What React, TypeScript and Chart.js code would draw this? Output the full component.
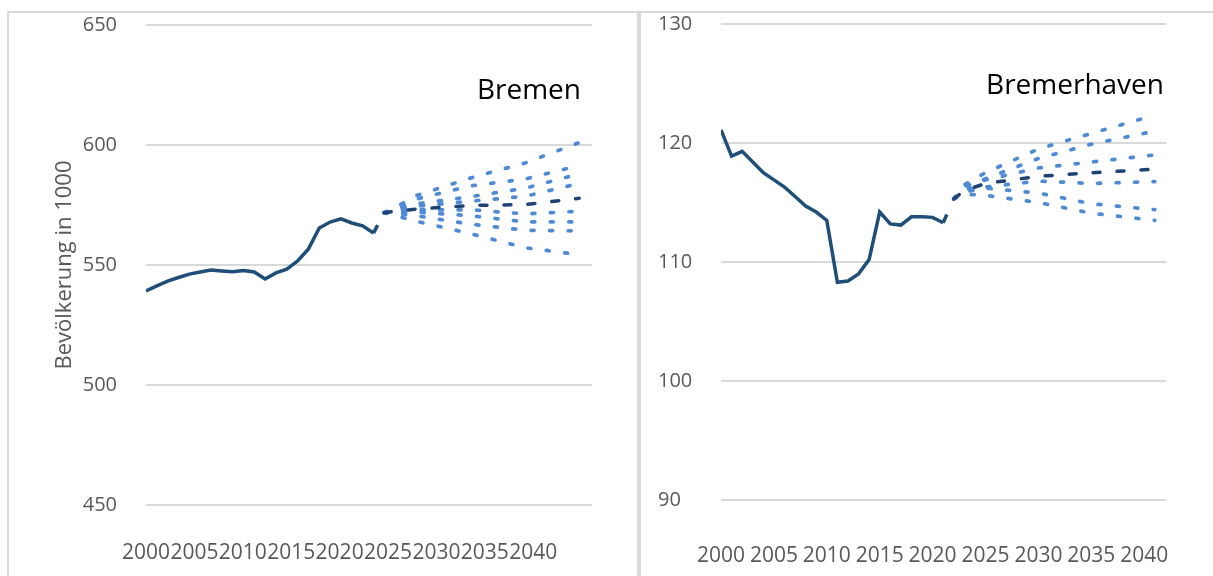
import React, { useEffect, useRef } from "react";
import { Chart, registerables } from "chart.js";

Chart.register(...registerables);

// ---------- data ----------
const histYears = [2000, 2001, 2002, 2003, 2004, 2005, 2006, 2007, 2008, 2009, 2010, 2011, 2012, 2013, 2014, 2015, 2016, 2017, 2018, 2019, 2020, 2021, 2022];

const bremenHist = [539.2, 541.3, 543.3, 544.8, 546.2, 547.1, 547.9, 547.5, 547.2, 547.7, 547.1, 544.2, 546.7, 548.3, 551.7, 556.7, 565.4, 567.9, 569.2, 567.5, 566.3, 563.3, 571.8];
const bremerhavenHist = [121.1, 118.9, 119.3, 118.4, 117.5, 116.9, 116.3, 115.5, 114.7, 114.2, 113.5, 108.3, 108.4, 109.0, 110.2, 114.2, 113.2, 113.1, 113.8, 113.8, 113.75, 113.3, 115.3];

const bremenProjYears = [2022, 2023, 2025, 2030, 2035, 2040];
const bremenMain = [571.8, 572.4, 573.3, 574.8, 575.2, 577.8];
const bremenVariants = [
  [571.8, 574.0, 579.0, 586.3, 592.5, 601.0],
  [571.8, 573.6, 577.5, 583.0, 585.8, 591.5],
  [571.8, 573.2, 575.5, 578.5, 582.0, 588.0],
  [571.8, 572.9, 574.5, 576.6, 578.6, 584.0],
  [571.8, 572.5, 573.0, 573.0, 571.3, 572.4],
  [571.8, 572.2, 572.0, 570.5, 568.0, 568.0],
  [571.8, 571.6, 570.5, 567.0, 564.5, 564.2],
  [571.8, 570.6, 568.2, 563.0, 557.2, 554.3],
];

const bremerhavenProjYears = [2022, 2023, 2025, 2030, 2035, 2041];
const bremerhavenMain = [115.3, 116.0, 116.6, 117.2, 117.5, 117.8];
const bremerhavenVariants = [
  [115.3, 116.5, 117.5, 119.5, 120.8, 122.35],
  [115.3, 116.4, 117.0, 118.7, 119.9, 121.0],
  [115.3, 116.3, 116.9, 117.9, 118.4, 119.0],
  [115.3, 116.1, 116.3, 116.8, 116.6, 116.75],
  [115.3, 115.9, 116.2, 115.8, 114.9, 114.4],
  [115.3, 115.7, 115.6, 115.0, 114.1, 113.5],
];

const xTickYears = [2000, 2005, 2010, 2015, 2020, 2025, 2030, 2035, 2040];

// ---------- styles ----------
const NAVY = "#1F4E79";
const DARK = "#1E4273";
const LIGHT = "#4E8AD6";
const GRID = "#D9D9D9";
const TEXT = "#595959";
const FONT = "'Open Sans', 'Noto Sans', sans-serif";

const toXY = (xs: number[], ys: number[]) => xs.map((x, i) => ({ x, y: ys[i] }));

function buildDatasets(hist: number[], projYears: number[], main: number[], variants: number[][]) {
  const last = histYears.length - 1;
  const ds: any[] = [
    {
      data: toXY(histYears, hist),
      borderColor: NAVY,
      borderWidth: 3.5,
      pointRadius: 0,
      tension: 0,
      xAxisID: "x",
      yAxisID: "y",
      segment: {
        borderDash: (ctx: any) => (ctx.p1DataIndex === last ? [9, 60] : undefined),
      },
    },
    {
      data: toXY(projYears, main),
      borderColor: DARK,
      borderWidth: 3.5,
      borderDash: [7, 17],
      borderCapStyle: "round",
      pointRadius: 0,
      tension: 0,
      xAxisID: "x",
      yAxisID: "y",
    },
  ];
  variants.forEach((v) => {
    ds.push({
      data: toXY(projYears, v),
      borderColor: LIGHT,
      borderWidth: 3.7,
      borderDash: [3, 15.5],
      borderCapStyle: "round",
      pointRadius: 0,
      tension: 0,
      xAxisID: "x",
      yAxisID: "y",
    });
  });
  return ds;
}

const setXTicks = (s: any) => {
  s.ticks = xTickYears.map((v) => ({ value: v }));
};

function ChartCanvas({ config, left, width, height }: { config: any; left: number; width: number; height: number }) {
  const ref = useRef<HTMLCanvasElement | null>(null);
  useEffect(() => {
    if (!ref.current) return;
    const chart = new Chart(ref.current, config);
    return () => chart.destroy();
  }, [config]);
  return (
    <canvas
      ref={ref}
      width={width}
      height={height}
      style={{ position: "absolute", left, top: 0, width, height, display: "block" }}
    />
  );
}

const commonPlugins = {
  legend: { display: false },
  tooltip: { enabled: false },
  title: { display: false },
};

const bremenConfig: any = {
  type: "line",
  data: { datasets: buildDatasets(bremenHist, bremenProjYears, bremenMain, bremenVariants) },
  options: {
    animation: false,
    responsive: false,
    maintainAspectRatio: false,
    events: [],
    layout: { padding: { left: 43, right: 44, top: 25, bottom: 12 } },
    plugins: commonPlugins,
    scales: {
      x: { type: "linear", display: false, min: 2000, max: 2041.18 },
      xl: {
        type: "linear",
        position: "bottom",
        min: 2000,
        max: 2046.07,
        grid: { display: false, drawTicks: false },
        border: { display: false },
        afterBuildTicks: setXTicks,
        afterFit: (s: any) => {
          s.height = 59;
        },
        ticks: {
          autoSkip: false,
          maxRotation: 0,
          minRotation: 0,
          padding: 35,
          color: TEXT,
          font: { family: FONT, size: 21 },
          callback: (v: any) => String(v),
        },
      },
      y: {
        type: "linear",
        position: "left",
        min: 450,
        max: 650,
        grid: { color: GRID, lineWidth: 2, drawTicks: true, tickLength: 29, tickColor: "rgba(0,0,0,0)" },
        border: { display: false },
        afterFit: (s: any) => {
          s.width = 94;
        },
        ticks: {
          stepSize: 50,
          padding: 0,
          color: TEXT,
          font: { family: FONT, size: 20 },
          callback: (v: any) => String(v),
        },
        title: {
          display: true,
          text: "Bevölkerung in 1000",
          color: TEXT,
          padding: 0,
          font: { family: FONT, size: 22 },
        },
      },
    },
  },
};

const bremerhavenConfig: any = {
  type: "line",
  data: { datasets: buildDatasets(bremerhavenHist, bremerhavenProjYears, bremerhavenMain, bremerhavenVariants) },
  options: {
    animation: false,
    responsive: false,
    maintainAspectRatio: false,
    events: [],
    layout: { padding: { left: 17, right: 36, top: 24, bottom: 9 } },
    plugins: commonPlugins,
    scales: {
      x: {
        type: "linear",
        position: "bottom",
        min: 2000,
        max: 2042.1,
        grid: { display: false, drawTicks: false },
        border: { display: false },
        afterBuildTicks: setXTicks,
        afterFit: (s: any) => {
          s.height = 67;
        },
        ticks: {
          autoSkip: false,
          maxRotation: 0,
          minRotation: 0,
          padding: 43,
          color: TEXT,
          font: { family: FONT, size: 21 },
          callback: (v: any) => String(v),
        },
      },
      y: {
        type: "linear",
        position: "left",
        min: 90,
        max: 130,
        grid: { color: GRID, lineWidth: 2, drawTicks: false },
        border: { display: false },
        afterFit: (s: any) => {
          s.width = 63;
        },
        ticks: {
          stepSize: 10,
          crossAlign: "far",
          padding: 0,
          color: TEXT,
          font: { family: FONT, size: 20 },
          callback: (v: any) => String(v),
        },
      },
    },
  },
};

export default function App() {
  const titleStyle: React.CSSProperties = {
    position: "absolute",
    fontFamily: FONT,
    fontSize: 28,
    lineHeight: "28px",
    color: "#000",
    whiteSpace: "nowrap",
    zIndex: 3,
  };
  return (
    <div
      style={{
        position: "absolute",
        left: 0,
        top: 0,
        width: 1213,
        height: 576,
        background: "#fff",
        overflow: "hidden",
      }}
    >
      <ChartCanvas config={bremenConfig} left={9} width={627} height={576} />
      <ChartCanvas config={bremerhavenConfig} left={641} width={572} height={576} />
      {/* frame lines */}
      <div style={{ position: "absolute", left: 7, top: 11, width: 1206, height: 2, background: GRID, zIndex: 2 }} />
      <div style={{ position: "absolute", left: 7, top: 11, width: 2, height: 565, background: GRID, zIndex: 2 }} />
      <div style={{ position: "absolute", left: 637, top: 11, width: 4, height: 565, background: GRID, zIndex: 2 }} />
      {/* panel titles */}
      <div style={{ ...titleStyle, right: 1213 - 581, top: 74 }}>Bremen</div>
      <div style={{ ...titleStyle, right: 1213 - 1164, top: 69 }}>Bremerhaven</div>
    </div>
  );
}
